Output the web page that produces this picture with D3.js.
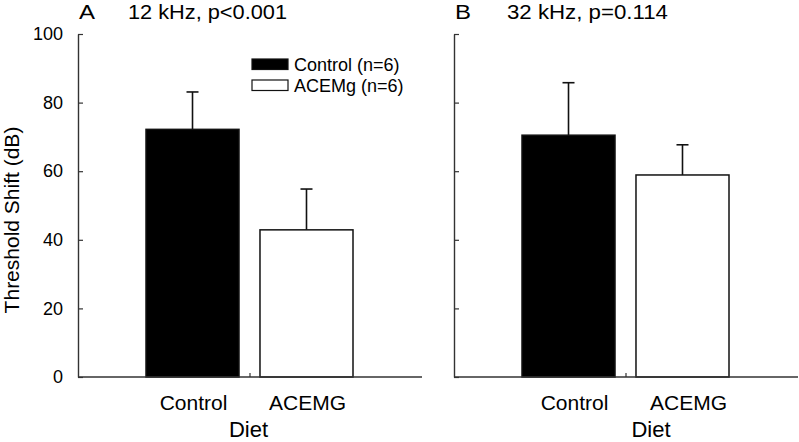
<!DOCTYPE html>
<html>
<head>
<meta charset="utf-8">
<script src="https://cdn.jsdelivr.net/npm/d3@7"></script>
<style>
  html, body { margin: 0; padding: 0; background: #fff; }
  svg { display: block; font-family: "Liberation Sans", Arial, sans-serif; }
</style>
</head>
<body>
<svg id="chart" width="799" height="442"></svg>
<script>
// ---- data ----
const panelLetters = ["A", "B"];
const panelTitles = ["12 kHz, p<0.001", "32 kHz, p=0.114"];
const groups = ["Control", "ACEMG"];
const legendLabels = ["Control (n=6)", "ACEMg (n=6)"];
const means12k = [72.2, 42.9];
const errors12k = [10.9, 11.9];
const means32k = [70.5, 58.9];
const errors32k = [15.3, 8.8];
const yTicks = [0, 20, 40, 60, 80, 100];
const yAxisTitle = "Threshold Shift (dB)";
const xAxisTitle = "Diet";

const panelMeans = [means12k, means32k];
const panelErrors = [errors12k, errors32k];

// ---- layout ----
const svg = d3.select("#chart");
const yTop = 34, yBottom = 377;
const panelX = [[78, 422], [454, 798]];
const fills = ["#000", "#fff"];
const axisColor = "#333";

const y = d3.scaleLinear().domain([0, 100]).range([yBottom, yTop]);

panelLetters.forEach((letter, pi) => {
  const [x0, x1] = panelX[pi];
  const g = svg.append("g");
  const x = d3.scaleBand().domain(groups)
    .range([x0 + 68, x0 + 275]).paddingInner(0.184).paddingOuter(0);

  // y axis
  const yAxis = d3.axisLeft(y).tickValues(yTicks)
    .tickSizeInner(-5).tickSizeOuter(0).tickPadding(15)
    .tickFormat(pi === 0 ? d3.format("d") : () => "");
  const ya = g.append("g").attr("transform", `translate(${x0},0)`).call(yAxis);
  ya.select(".domain").attr("stroke", axisColor).attr("stroke-width", 1.4);
  ya.selectAll(".tick line").attr("stroke", axisColor).attr("stroke-width", 1.2);
  ya.selectAll(".tick text").attr("font-size", 18).attr("fill", "#000")
    .attr("font-family", "Liberation Sans, Arial, sans-serif");

  // bars
  const data = groups.map((gname, i) => ({ g: gname, m: panelMeans[pi][i], e: panelErrors[pi][i], i }));
  // error bars (upper only)
  g.selectAll(".err").data(data).enter().append("line")
    .attr("x1", d => x(d.g) + x.bandwidth() / 2).attr("x2", d => x(d.g) + x.bandwidth() / 2)
    .attr("y1", d => y(d.m)).attr("y2", d => y(d.m + d.e))
    .attr("stroke", "#111").attr("stroke-width", 1.6);
  g.selectAll(".cap").data(data).enter().append("line")
    .attr("x1", d => x(d.g) + x.bandwidth() / 2 - 6).attr("x2", d => x(d.g) + x.bandwidth() / 2 + 6)
    .attr("y1", d => y(d.m + d.e)).attr("y2", d => y(d.m + d.e))
    .attr("stroke", "#111").attr("stroke-width", 1.6);
  g.selectAll(".bar").data(data).enter().append("rect")
    .attr("x", d => x(d.g)).attr("width", x.bandwidth())
    .attr("y", d => y(d.m)).attr("height", d => y(0) - y(d.m))
    .attr("fill", d => fills[d.i]).attr("stroke", "#111").attr("stroke-width", 1.5);

  // x axis baseline with a single centre tick
  const xc = (x0 + x1) / 2;
  g.append("line").attr("x1", x0).attr("x2", x1).attr("y1", yBottom).attr("y2", yBottom)
    .attr("stroke", axisColor).attr("stroke-width", 1.4);
  g.append("line").attr("x1", xc).attr("x2", xc).attr("y1", yBottom).attr("y2", yBottom - 4)
    .attr("stroke", axisColor).attr("stroke-width", 1.2);

  // group labels
  g.selectAll(".xl").data(groups).enter().append("text")
    .attr("x", d => x(d) + x.bandwidth() / 2 + (pi === 0 ? 1 : 6))
    .attr("y", 410).attr("text-anchor", "middle").attr("font-size", 21).text(d => d);

  // Diet
  g.append("text").attr("x", pi === 0 ? 248.5 : 651).attr("y", 437)
    .attr("text-anchor", "middle").attr("font-size", 22).text(xAxisTitle);

  // panel letter + title
  g.append("text").attr("x", x0 + 1).attr("y", 19).attr("font-size", 20)
    .attr("textLength", 16).attr("lengthAdjust", "spacingAndGlyphs").text(letter);
  g.append("text").attr("x", pi === 0 ? 128 : 507).attr("y", 19).attr("font-size", 20)
    .attr("textLength", pi === 0 ? 159 : 161).attr("lengthAdjust", "spacingAndGlyphs")
    .text(panelTitles[pi]);
});

// y axis title
svg.append("text").attr("transform", "translate(19,220) rotate(-90)")
  .attr("text-anchor", "middle").attr("font-size", 21).text(yAxisTitle);

// legend
const legend = svg.append("g");
legendLabels.forEach((lab, i) => {
  legend.append("rect").attr("x", 252).attr("y", 59 + i * 21).attr("width", 36).attr("height", 10.5)
    .attr("fill", fills[i]).attr("stroke", "#111").attr("stroke-width", 1.2);
  legend.append("text").attr("x", 294).attr("y", 70.5 + i * 21).attr("font-size", 18).text(lab);
});
</script>
</body>
</html>
